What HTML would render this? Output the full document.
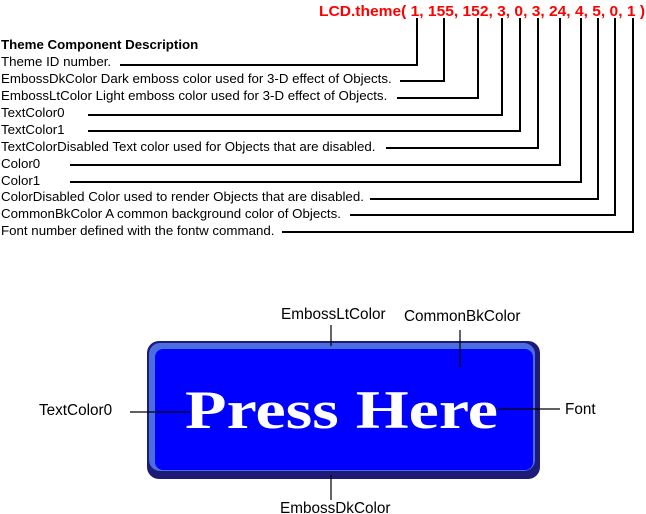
<!DOCTYPE html>
<html><head><style>body{margin:0;background:#fff}svg{display:block}</style></head><body>
<svg width="646" height="514" xmlns="http://www.w3.org/2000/svg" font-family="Liberation Sans, sans-serif">
<text x="319" y="16" font-size="15" font-weight="bold" fill="#f00" textLength="326" lengthAdjust="spacingAndGlyphs">LCD.theme( 1, 155, 152, 3, 0, 3, 24, 4, 5, 0, 1 )</text>
<g font-size="13.3" fill="#000">
<text x="1" y="49" font-weight="bold">Theme Component Description</text>
<text x="1" y="66">Theme ID number.</text>
<text x="1" y="83">EmbossDkColor Dark emboss color used for 3-D effect of Objects.</text>
<text x="1" y="100">EmbossLtColor Light emboss color used for 3-D effect of Objects.</text>
<text x="1" y="117">TextColor0</text>
<text x="1" y="134">TextColor1</text>
<text x="1" y="151">TextColorDisabled Text color used for Objects that are disabled.</text>
<text x="1" y="168">Color0</text>
<text x="1" y="185">Color1</text>
<text x="1" y="201">ColorDisabled Color used to render Objects that are disabled.</text>
<text x="1" y="218">CommonBkColor A common background color of Objects.</text>
<text x="1" y="235">Font number defined with the fontw command.</text>
</g>
<g stroke="#000" stroke-width="2" fill="none">
<polyline points="120,65 417,65 417,18"/>
<polyline points="400,81 444,81 444,18"/>
<polyline points="397,98 478,98 478,18"/>
<polyline points="88,115 502,115 502,18"/>
<polyline points="88,131 520,131 520,18"/>
<polyline points="386,148 538,148 538,18"/>
<polyline points="70,165 560,165 560,18"/>
<polyline points="70,182 581,182 581,18"/>
<polyline points="370,199 598,199 598,18"/>
<polyline points="350,215 615,215 615,18"/>
<polyline points="282,232 633,232 633,18"/>
</g>
<rect x="147" y="341" width="393" height="138" rx="12" fill="#1e1a78"/>
<rect x="149" y="343" width="386" height="128" rx="11" fill="#4a6ee0"/>
<rect x="155" y="349" width="378" height="121" rx="8" fill="#0000ff"/>
<text x="185" y="428" font-family="Liberation Serif, serif" font-size="54" font-weight="bold" fill="#fff" textLength="313" lengthAdjust="spacingAndGlyphs">Press Here</text>
<g stroke="#000" stroke-width="1.2">
<line x1="331" y1="325" x2="331" y2="346"/>
<line x1="460" y1="330" x2="460" y2="367"/>
<line x1="130" y1="412" x2="190" y2="412"/>
<line x1="498" y1="409" x2="560" y2="409"/>
<line x1="331" y1="475" x2="331" y2="500"/>
</g>
<g font-size="15.3" fill="#000">
<text x="281" y="319">EmbossLtColor</text>
<text x="404" y="321">CommonBkColor</text>
<text x="39" y="415">TextColor0</text>
<text x="565" y="414">Font</text>
<text x="280" y="513">EmbossDkColor</text>
</g>
</svg>
</body></html>
